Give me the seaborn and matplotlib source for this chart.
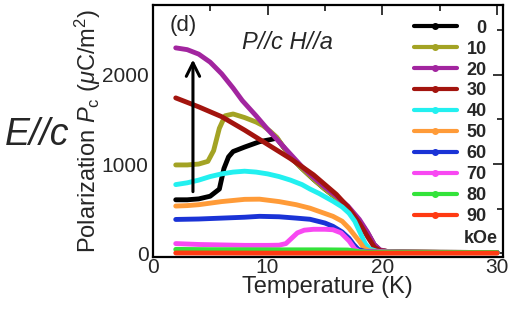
import numpy as np
import pandas as pd
import matplotlib
matplotlib.use("Agg")
import matplotlib.pyplot as plt
from matplotlib.lines import Line2D
from matplotlib.ticker import MultipleLocator
import seaborn as sns

# ---------------------------------------------------------
# data (T in K, P in uC/m^2)
# ---------------------------------------------------------
fields = ["0", "10", "20", "30", "40", "50", "60", "70", "80", "90"]
colors = ["#000000", "#a3a324", "#a2259f", "#a3140e", "#22f0f0",
          "#ff9b38", "#1a33d6", "#f848f2", "#33e33a", "#ff3a12"]

T_0 = [2, 3, 4, 5, 5.8, 6.2, 6.6, 7, 8, 9.3, 10.3, 10.8, 11.5, 12, 13, 14, 15, 16, 17, 18, 18.7, 19.3, 19.8, 20.5, 22, 25, 30]
P_0 = [600, 600, 610, 640, 720, 950, 1080, 1140, 1190, 1250, 1275, 1290, 1170, 1080, 950, 830, 720, 620, 510, 360, 230, 95, 35, 20, 15, 12, 10]

T_10 = [2, 3, 4, 4.8, 5.3, 5.8, 6.3, 7, 8, 9, 9.6, 10.2, 10.8, 11.5, 12, 13, 14, 15, 16, 17, 18, 18.7, 19.3, 19.8, 20.5, 22, 25, 30]
P_10 = [990, 990, 1000, 1030, 1150, 1400, 1540, 1560, 1520, 1470, 1430, 1370, 1300, 1170, 1080, 950, 830, 720, 620, 510, 360, 230, 95, 35, 20, 15, 12, 10]

T_20 = [2, 3, 4, 5, 6, 7, 7.8, 9, 10, 11, 12, 13, 14, 15, 16, 17, 18, 18.7, 19.3, 19.8, 20.5, 22, 25, 30]
P_20 = [2300, 2280, 2230, 2140, 2010, 1850, 1710, 1540, 1390, 1250, 1110, 970, 850, 740, 640, 530, 380, 240, 100, 40, 20, 15, 12, 10]

T_30 = [2, 4, 6, 8, 10, 12, 14, 16, 17, 18, 18.7, 19.3, 19.8, 20.5, 22, 25, 30]
P_30 = [1740, 1640, 1530, 1380, 1220, 1060, 880, 660, 520, 340, 190, 70, 30, 20, 15, 12, 10]

T_40 = [2, 3, 4, 5, 6, 7, 8, 9, 10, 11, 12, 13, 13.7, 14.5, 15.7, 16.5, 17.1, 17.6, 18, 18.5, 18.9, 19.5, 20.3, 22, 25, 30]
P_40 = [770, 790, 820, 860, 890, 910, 920, 910, 890, 860, 820, 770, 720, 670, 584, 520, 450, 360, 250, 110, 50, 25, 18, 14, 12, 10]

T_50 = [2, 3, 4, 6, 8, 9.3, 11, 12.5, 13.7, 15.7, 16.5, 17.1, 17.6, 18, 18.4, 18.8, 19.4, 20, 22, 25, 30]
P_50 = [530, 535, 545, 580, 605, 607, 580, 545, 506, 415, 360, 281, 200, 135, 60, 30, 22, 18, 14, 12, 10]

T_60 = [2, 4, 6, 8, 9.3, 11, 12.5, 13.7, 15, 15.7, 16.5, 17.1, 17.5, 17.9, 18.4, 19, 20, 22, 25, 30]
P_60 = [380, 385, 395, 405, 415, 410, 395, 382, 340, 303, 240, 169, 100, 45, 25, 18, 14, 12, 10, 10]

T_70 = [2, 4, 6, 8, 10, 11, 11.6, 12.1, 12.6, 13.2, 14, 15, 15.7, 16.4, 17.1, 17.6, 18, 19, 20, 22, 25, 30]
P_70 = [110, 100, 95, 90, 90, 92, 110, 170, 230, 260, 270, 270, 265, 230, 140, 50, 20, 15, 12, 10, 10, 10]

T_80 = [2, 5, 10, 15, 17, 18, 19, 20, 25, 30]
P_80 = [45, 42, 40, 40, 38, 20, 12, 10, 10, 10]

T_90 = [2, 10, 20, 30]
P_90 = [5, 3, 3, 3]

# arrow: field increase direction
arrow_T = 3.5
arrow_P = [660, 2200]

T_all = [T_0, T_10, T_20, T_30, T_40, T_50, T_60, T_70, T_80, T_90]
P_all = [P_0, P_10, P_20, P_30, P_40, P_50, P_60, P_70, P_80, P_90]

df = pd.concat(
    [pd.DataFrame({"T": t, "P": p, "H": h}) for t, p, h in zip(T_all, P_all, fields)],
    ignore_index=True,
)

# ---------------------------------------------------------
# style
# ---------------------------------------------------------
sns.set_style("white")
plt.rcParams["font.family"] = ["Liberation Sans", "DejaVu Sans"]
plt.rcParams["mathtext.fontset"] = "custom"
plt.rcParams["mathtext.rm"] = "Liberation Sans"
plt.rcParams["mathtext.it"] = "Liberation Sans:italic"

fig = plt.figure(figsize=(5.11, 3.10), dpi=100)
ax = fig.add_axes([0.299, 0.171, 0.685, 0.813])

palette = dict(zip(fields, colors))
sns.lineplot(data=df, x="T", y="P", hue="H", hue_order=fields, palette=palette,
             sort=False, estimator=None, lw=3.5, legend=False, ax=ax)

ax.annotate("", xy=(arrow_T, arrow_P[1]), xytext=(arrow_T, arrow_P[0]),
            arrowprops=dict(arrowstyle="->", lw=2.2, color="black", mutation_scale=24))

ax.set_xlim(0, 30.5)
ax.set_ylim(-40, 2780)
ax.set_xticks([0, 10, 20, 30])
ax.set_yticks([0, 1000, 2000])
ax.xaxis.set_minor_locator(MultipleLocator(5))
ax.yaxis.set_minor_locator(MultipleLocator(500))
ax.tick_params(which="both", direction="in", top=True, right=True, labelsize=15, width=1.3)
ax.tick_params(which="major", length=7, pad=1)
ax.tick_params(axis="y", which="major", pad=3)
ax.tick_params(which="minor", length=4)
for s in ax.spines.values():
    s.set_linewidth(1.6)
    s.set_color("black")

ax.set_xlabel("Temperature (K)", fontsize=17, labelpad=-1)
ax.set_ylabel(r"Polarization $P_{\rm c}$ ($\mu$C/m$^2$)", fontsize=17, labelpad=-1)

ax.text(0.048, 0.92, "(d)", transform=ax.transAxes, fontsize=16, va="center")
ax.text(0.255, 0.853, "P//c H//a", transform=ax.transAxes, fontsize=17,
        style="italic", va="center")
fig.text(0.01, 0.565, "E//c", fontsize=27, style="italic", va="center")

# single digit pads with a figure space so the numbers line up on the right
legend_labels = [f.rjust(2, "\u2007") for f in fields]
handles = [Line2D([], [], color=c, lw=3, marker="o", markersize=4) for c in colors]
ax.legend(handles, legend_labels, loc="upper right", bbox_to_anchor=(0.985, 0.985),
          frameon=False, prop={"size": 13, "weight": "bold"},
          handlelength=2.35, handletextpad=0.55, labelspacing=0.22,
          borderaxespad=0.2)
ax.text(0.985, 0.075, "kOe", transform=ax.transAxes, fontsize=13,
        fontweight="bold", ha="right", va="center")

fig.savefig("out.png", dpi=100)
